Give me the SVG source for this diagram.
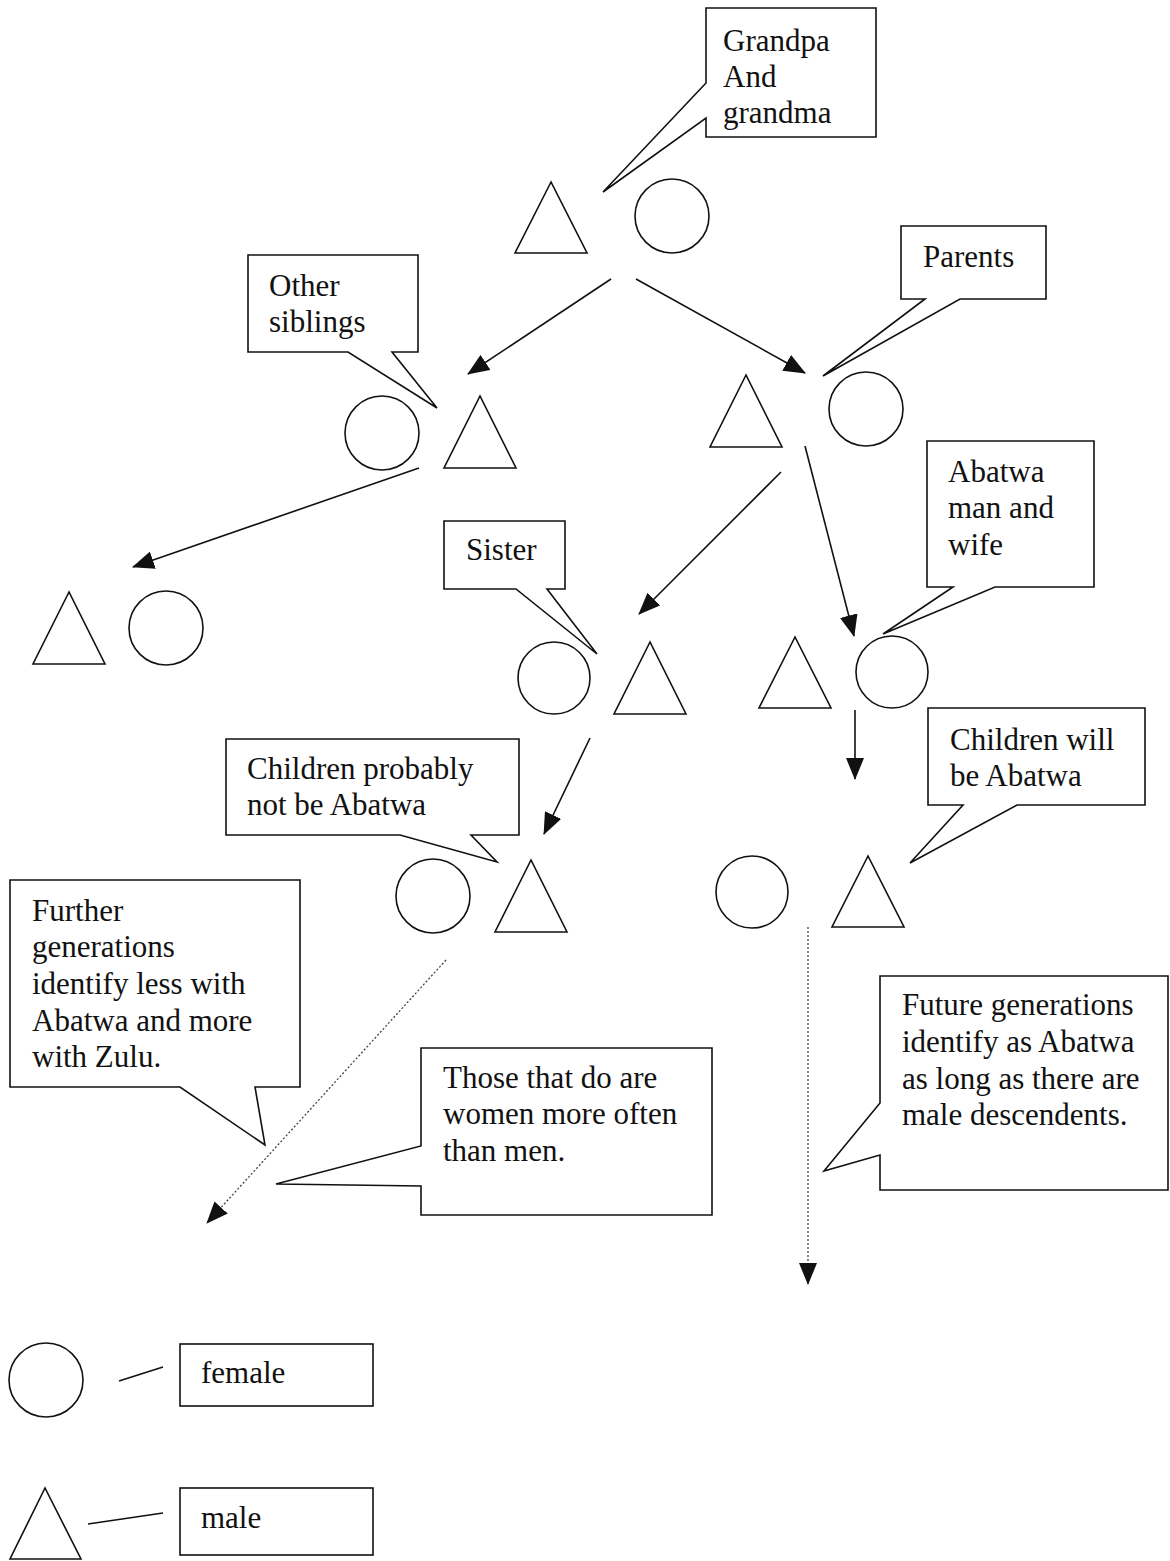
<svg xmlns="http://www.w3.org/2000/svg" width="1170" height="1561" viewBox="0 0 1170 1561">
<defs>
<style>
.shape{fill:none;stroke:#111;stroke-width:1.6}
.callout{fill:#fff;stroke:#111;stroke-width:1.6;stroke-linejoin:miter}
.conn{fill:none;stroke:#111;stroke-width:1.6}
.dot{fill:none;stroke:#444;stroke-width:1.3;stroke-dasharray:2,2}
text{font-family:"Liberation Serif","Times New Roman",serif;font-size:31px;fill:#111}
</style>
<marker id="ah" markerUnits="userSpaceOnUse" markerWidth="22" markerHeight="18" refX="21" refY="9" orient="auto">
<path d="M0,0 L22,9 L0,18 Z" fill="#111"/>
</marker>
</defs>
<rect width="1170" height="1561" fill="#fff"/>

<g id="connectors">
<line class="conn" x1="611" y1="279" x2="468" y2="374" marker-end="url(#ah)"/>
<line class="conn" x1="636" y1="279" x2="805" y2="373" marker-end="url(#ah)"/>
<line class="conn" x1="419" y1="468" x2="133" y2="567" marker-end="url(#ah)"/>
<line class="conn" x1="781" y1="472" x2="639" y2="614" marker-end="url(#ah)"/>
<line class="conn" x1="805" y1="446" x2="854" y2="636" marker-end="url(#ah)"/>
<line class="conn" x1="855" y1="710" x2="855" y2="779" marker-end="url(#ah)"/>
<line class="conn" x1="590" y1="738" x2="544" y2="834" marker-end="url(#ah)"/>
<line class="dot" x1="446" y1="960" x2="207" y2="1223" marker-end="url(#ah)"/>
<line class="dot" x1="808" y1="927" x2="808" y2="1284" marker-end="url(#ah)"/>
</g>

<g id="grandparents">
<polygon class="shape" points="551,182 515,253 587,253"/>
<circle class="shape" cx="672" cy="216" r="37"/>
</g>
<g id="callout-grandparents">
<path class="callout" d="M706,8 H876 V137 H706 V118 L603,192 L706,83 Z"/>
<text x="723" y="51">Grandpa</text>
<text x="723" y="87">And</text>
<text x="723" y="123">grandma</text>
</g>

<g id="other-siblings">
<circle class="shape" cx="382" cy="433" r="37"/>
<polygon class="shape" points="480,396 444,468 516,468"/>
</g>
<g id="callout-other-siblings">
<path class="callout" d="M248,255 H418 V352 H392 L437,408 L348,352 H248 Z"/>
<text x="269" y="296">Other</text>
<text x="269" y="332">siblings</text>
</g>

<g id="parents">
<polygon class="shape" points="746,375 710,447 782,447"/>
<circle class="shape" cx="866" cy="409" r="37"/>
</g>
<g id="callout-parents">
<path class="callout" d="M901,226 H1046 V299 H960 L823,376 L925,299 H901 Z"/>
<text x="923" y="267">Parents</text>
</g>

<g id="far-left-couple">
<polygon class="shape" points="69,592 33,664 105,664"/>
<circle class="shape" cx="166" cy="628" r="37"/>
</g>

<g id="sister-couple">
<circle class="shape" cx="554" cy="678" r="36"/>
<polygon class="shape" points="650,642 614,714 686,714"/>
</g>
<g id="callout-sister">
<path class="callout" d="M444,521 H565 V589 H547 L597,654 L516,589 H444 Z"/>
<text x="466" y="560">Sister</text>
</g>

<g id="abatwa-couple">
<polygon class="shape" points="795,637 759,708 831,708"/>
<circle class="shape" cx="892" cy="672" r="36"/>
</g>
<g id="callout-abatwa">
<path class="callout" d="M927,441 H1094 V587 H995 L883,634 L953,587 H927 Z"/>
<text x="948" y="482">Abatwa</text>
<text x="948" y="518">man and</text>
<text x="948" y="555">wife</text>
</g>

<g id="callout-children-will">
<path class="callout" d="M928,708 H1145 V805 H1017 L910,863 L963,805 H928 Z"/>
<text x="950" y="750">Children will</text>
<text x="950" y="786">be Abatwa</text>
</g>

<g id="callout-children-probably">
<path class="callout" d="M226,739 H519 V835 H471 L497,862 L400,835 H226 Z"/>
<text x="247" y="779">Children probably</text>
<text x="247" y="815">not be Abatwa</text>
</g>

<g id="children-probably-couple">
<circle class="shape" cx="433" cy="896" r="37"/>
<polygon class="shape" points="531,860 495,932 567,932"/>
</g>

<g id="children-will-couple">
<circle class="shape" cx="752" cy="892" r="36"/>
<polygon class="shape" points="868,856 832,927 904,927"/>
</g>

<g id="callout-further">
<path class="callout" d="M10,880 H300 V1087 H255 L265,1145 L180,1087 H10 Z"/>
<text x="32" y="921">Further</text>
<text x="32" y="957">generations</text>
<text x="32" y="994">identify less with</text>
<text x="32" y="1031">Abatwa and more</text>
<text x="32" y="1067">with Zulu.</text>
</g>

<g id="callout-those">
<path class="callout" d="M421,1048 H712 V1215 H421 V1186 L276,1184 L421,1146 Z"/>
<text x="443" y="1088">Those that do are</text>
<text x="443" y="1124">women more often</text>
<text x="443" y="1161">than men.</text>
</g>

<g id="callout-future">
<path class="callout" d="M880,976 H1168 V1190 H880 V1155 L824,1171 L880,1103 Z"/>
<text x="902" y="1015">Future generations</text>
<text x="902" y="1052">identify as Abatwa</text>
<text x="902" y="1089">as long as there are</text>
<text x="902" y="1125">male descendents.</text>
</g>

<g id="legend-female">
<circle class="shape" cx="46" cy="1380" r="37"/>
<line class="conn" x1="119" y1="1381" x2="163" y2="1367"/>
<rect class="callout" x="180" y="1344" width="193" height="62"/>
<text x="201" y="1383">female</text>
</g>

<g id="legend-male">
<polygon class="shape" points="45,1488 10,1559 81,1559"/>
<line class="conn" x1="88" y1="1524" x2="163" y2="1513"/>
<rect class="callout" x="180" y="1488" width="193" height="67"/>
<text x="201" y="1528">male</text>
</g>
</svg>
